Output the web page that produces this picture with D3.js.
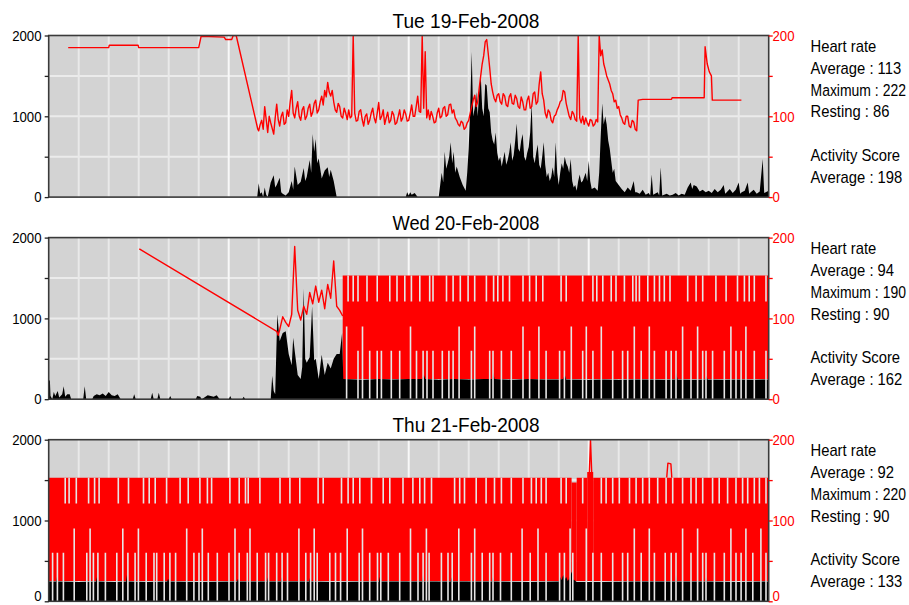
<!DOCTYPE html>
<html>
<head>
<meta charset="utf-8">
<script src="https://cdn.jsdelivr.net/npm/d3@7"></script>
<style>
  html, body { margin: 0; padding: 0; background: #ffffff; }
  svg { display: block; font-family: "Liberation Sans", Arial, sans-serif; }
</style>
</head>
<body>
<script>
// ---------------- DATA ----------------
const days = ["Tue 19-Feb-2008", "Wed 20-Feb-2008", "Thu 21-Feb-2008"];
const hrAverage = [113, 94, 92];
const hrMaximum = [222, 190, 220];
const hrResting = [86, 90, 90];
const activityAverage = [198, 162, 133];

const activityTicks = [0, 500, 1000, 1500, 2000];
const activityTickLabels = [0, 1000, 2000];
const hrTicks = [0, 50, 100, 150, 200];
const hrTickLabels = [0, 100, 200];
const hourGrid = [1,2,3,4,5,6,7,8,9,10,11,12,13,14,15,16,17,18,19,20,21,22,23];
const activityGrid = [500, 1000, 1500];

// Tue: heart rate [hour, bpm]
const tueHrStart = [[0.65,185],[2.0,185],[2.02,188],[2.98,188],[3.0,185],[5.0,185],[5.08,199],[5.85,198],[5.9,195],[6.1,195],[6.15,200],[6.25,200],[6.97,84]];
// Tue noisy heart rate, one value every 0.05 h starting at 7.0 h
const tueHrNoisyStart = 7.0;
const tueHrNoisyStep = 0.05;
const tueHrNoisy = [
  82,90,95,84,112,96,80,100,92,85,
  78,98,115,96,88,100,105,90,92,108,
  100,118,132,104,98,110,118,100,95,108,
  112,96,100,110,115,100,105,116,120,104,
  108,118,125,114,132,124,142,130,125,132,
  118,108,105,116,112,100,98,110,104,96,
  108,98,100,200,104,94,95,106,108,96,
  88,100,103,90,95,104,110,98,92,104,
  117,96,100,108,90,98,105,92,95,106,
  102,90,92,100,108,94,98,108,103,94,
  95,104,114,100,100,112,125,106,105,200,
  110,180,98,108,96,106,100,92,93,104,
  110,98,100,110,112,100,102,114,115,104,
  108,98,95,90,88,94,92,84,86,92,
  95,104,112,120,126,112,118,135,150,165,
  175,192,195,178,160,140,130,122,118,126,
  128,118,115,128,125,114,112,124,128,116,
  115,126,122,112,110,124,118,108,108,120,
  125,110,112,128,130,115,118,140,155,128,
  120,104,98,108,105,95,92,100,102,108,
  112,118,120,132,130,116,108,100,96,106,
  103,96,94,200,98,92,100,90,98,92,
  88,96,95,88,90,96,93,200,175,182,
  165,158,150,145,140,132,128,118,120,110,
  112,102,98,92,90,100,100,88,86,95,
  93,84,82,120];
const tueHrEnd = [[19.8,121],[20.76,121],[20.78,123],[21.85,123],[21.88,186],[21.95,165],[22.02,155],[22.09,150],[22.12,120],[23.09,120]];

// Tue activity [hour, score]
const tueAct = [[6.95,0],[7.0,170],[7.05,40],[7.1,60],[7.15,0],[7.2,120],[7.25,30],[7.3,0],[7.35,90],[7.4,180],[7.5,270],[7.55,120],[7.6,150],[7.7,240],[7.75,60],[7.8,40],[7.9,20],[8.0,60],[8.1,200],[8.15,90],[8.2,380],[8.3,150],[8.4,190],[8.5,360],[8.55,200],[8.6,250],[8.7,460],[8.75,300],[8.8,780],[8.85,560],[8.9,720],[8.95,420],[9.0,480],[9.1,230],[9.2,330],[9.3,370],[9.35,250],[9.4,340],[9.5,200],[9.6,0],
  [11.9,0],[11.95,60],[12.0,20],[12.05,60],[12.1,30],[12.2,50],[12.3,0],
  [13.0,0],[13.1,300],[13.15,180],[13.2,560],[13.25,350],[13.3,420],[13.35,500],[13.4,680],[13.45,420],[13.5,560],[13.55,300],[13.6,380],[13.7,250],[13.8,150],[13.9,80],[13.95,300],[14.0,600],[14.05,1100],[14.1,1800],[14.15,1000],[14.2,1100],[14.25,1300],[14.3,1000],[14.35,1300],[14.4,1520],[14.45,1100],[14.5,1000],[14.55,1400],[14.6,1380],[14.65,1100],[14.7,1050],[14.75,800],[14.8,700],[14.85,650],[14.9,800],[14.95,550],[15.0,450],[15.05,500],[15.1,380],[15.2,560],[15.25,400],[15.3,460],[15.35,550],[15.4,680],[15.45,450],[15.5,520],[15.55,700],[15.6,910],[15.65,600],[15.7,560],[15.75,700],[15.8,780],[15.85,500],[15.9,450],[15.95,550],[16.0,620],[16.05,800],[16.1,1160],[16.15,500],[16.2,420],[16.25,550],[16.3,650],[16.35,400],[16.4,350],[16.45,500],[16.5,680],[16.55,400],[16.6,250],[16.65,300],[16.7,200],[16.75,250],[16.8,370],[16.85,250],[16.9,680],[16.95,300],[17.0,150],[17.05,300],[17.1,420],[17.15,350],[17.2,500],[17.25,420],[17.3,380],[17.35,300],[17.4,470],[17.45,200],[17.5,120],[17.55,150],[17.6,80],[17.65,200],[17.7,280],[17.75,180],[17.8,200],[17.85,250],[17.9,300],[17.95,200],[18.0,450],[18.05,200],[18.1,100],[18.2,120],[18.3,80],[18.35,300],[18.4,750],[18.45,1160],[18.5,900],[18.55,1000],[18.6,900],[18.65,700],[18.7,600],[18.75,450],[18.8,300],[18.85,350],[18.9,200],[19.0,150],[19.1,100],[19.2,60],[19.3,120],[19.4,80],[19.5,200],[19.55,60],[19.6,60],[19.7,40],[19.8,90],[19.9,30],[20.0,50],[20.05,20],[20.1,280],[20.15,30],[20.3,60],[20.35,20],[20.4,370],[20.45,20],[20.6,40],[20.7,20],[20.8,30],[20.9,50],[21.0,20],[21.1,40],[21.2,30],[21.3,120],[21.4,180],[21.45,100],[21.5,150],[21.6,130],[21.7,70],[21.8,90],[21.9,60],[22.0,80],[22.1,50],[22.2,100],[22.3,60],[22.4,90],[22.5,150],[22.55,40],[22.6,60],[22.7,100],[22.8,50],[22.9,90],[23.0,180],[23.05,40],[23.1,60],[23.2,80],[23.3,180],[23.35,40],[23.4,60],[23.5,90],[23.6,40],[23.7,70],[23.8,470],[23.85,50],[23.9,60],[24.0,80]];

// Wed: heart rate [hour, bpm]
const wedHr = [[3.02,186],[7.6,84],[7.65,79],[7.7,86],[7.8,102],[7.9,95],[8.0,90],[8.1,105],[8.2,189],[8.3,110],[8.4,98],[8.5,115],[8.6,105],[8.7,132],[8.8,118],[8.9,140],[9.0,120],[9.1,135],[9.2,112],[9.3,142],[9.4,125],[9.5,171],[9.6,115],[9.7,110],[9.8,103]];
// Wed saturated heart-rate band [startHour, endHour, low bpm, high bpm]
const wedBand = [[9.8,24.0,25,153]];
const wedAct = [[0,230],[0.04,230],[0.06,40],[0.12,0],[0.17,90],[0.22,40],[0.3,100],[0.35,20],[0.45,60],[0.5,160],[0.55,30],[0.62,60],[0.7,60],[0.75,0],[1.15,0],[1.2,160],[1.25,0],[1.45,0],[1.5,40],[1.6,60],[1.7,50],[1.8,70],[1.9,40],[2.0,90],[2.1,50],[2.2,40],[2.3,60],[2.4,0],[2.8,0],[2.85,60],[2.9,0],[3.4,0],[3.45,80],[3.5,0],[3.62,0],[3.67,80],[3.72,0],[4.0,0],[4.05,40],[4.1,0],[4.9,0],[4.95,40],[5.05,30],[5.1,0],[5.3,50],[5.4,40],[5.5,30],[5.6,50],[5.7,0],[6.0,0],[6.05,40],[6.1,0],[6.45,0],[6.5,30],[6.55,0],[7.4,0],[7.45,290],[7.5,100],[7.55,60],[7.62,1050],[7.7,720],[7.8,820],[7.9,840],[8.0,560],[8.1,420],[8.15,760],[8.2,600],[8.3,300],[8.4,250],[8.45,400],[8.5,1370],[8.55,500],[8.6,450],[8.7,520],[8.78,1150],[8.85,480],[8.9,500],[9.0,250],[9.1,550],[9.2,300],[9.3,450],[9.4,380],[9.5,500],[9.6,560],[9.7,560],[9.78,820],[9.82,250],[10.5,240],[11.0,250],[11.5,245],[12.0,250],[12.45,250],[12.5,310],[12.55,250],[13.0,240],[13.5,250],[14.0,245],[14.5,250],[14.78,250],[14.82,330],[14.86,250],[15.5,240],[16.0,250],[16.5,245],[17.0,245],[17.15,250],[17.2,310],[17.25,245],[18.0,240],[18.5,245],[19.0,240],[19.5,245],[20.0,245],[20.5,240],[20.88,245],[20.92,330],[20.96,245],[21.5,240],[21.88,245],[21.92,290],[21.96,245],[22.5,240],[23.0,245],[23.5,240],[24.0,245]];
const wedShortGaps = [9.98,10.15,10.31,10.61,10.95,11.37,11.61,11.87,12.09,12.37,12.70,12.81,13.26,13.48,13.72,13.98,14.20,14.59,14.83,14.97,15.14,15.36,15.81,16.03,16.25,16.47,17.08,17.25,17.80,18.14,18.27,18.47,18.75,18.91,19.19,19.47,19.58,19.69,19.97,20.19,20.36,20.52,20.71,21.30,21.58,21.80,22.24,22.58,22.96,23.19,23.35,23.52,23.91];
const wedTallGaps = [9.93,10.46,12.06,13.68,14.20,15.81,16.34,17.42,17.92,18.42,19.52,20.02,21.13,21.63,22.74,23.24];
const wedMidGaps = [10.31,10.70,10.95,11.09,11.42,11.70,12.26,12.48,12.61,12.81,13.12,13.34,13.48,14.09,14.70,14.81,15.09,15.42,16.03,16.58,17.03,17.19,17.80,18.14,18.80,19.13,19.30,19.75,20.19,20.58,20.75,20.91,21.41,21.80,21.91,22.13,22.52,22.91,23.08,23.52,23.91];

// Thu
const thuBand = [[0,17.43,25,153],[17.43,17.6,25,147],[17.6,17.95,25,153],[17.95,18.15,25,160],[18.15,24,25,153]];
const thuHrPeaks = [[[18.02,158],[18.06,200],[18.1,160]], [[20.6,153],[20.64,171],[20.74,170],[20.77,153]]];
const thuAct = [[0,245],[0.25,245],[0.28,310],[0.31,245],[1.0,240],[1.58,245],[1.61,300],[1.64,245],[2.2,240],[2.58,245],[2.61,330],[2.64,245],[3.3,240],[3.95,245],[3.98,280],[4.01,245],[5.0,240],[6.28,245],[6.31,280],[6.34,245],[7.28,245],[7.31,300],[7.34,245],[7.74,245],[7.77,300],[7.8,245],[8.68,245],[8.71,290],[8.74,245],[9.5,240],[11.01,245],[11.04,300],[11.07,245],[12.45,245],[12.48,330],[12.51,245],[13.4,245],[13.43,300],[13.46,245],[14.77,245],[14.8,300],[14.83,245],[16.0,240],[17.0,245],[17.05,300],[17.1,260],[17.15,330],[17.2,270],[17.25,300],[17.3,250],[17.35,280],[17.43,370],[17.47,260],[17.5,270],[17.6,240],[18.5,240],[19.5,245],[20.88,245],[20.91,330],[20.94,245],[21.88,245],[21.91,300],[21.94,245],[23.0,240],[24.0,245]];
const thuShortGaps = [0.55,0.68,0.92,1.33,1.53,1.68,2.32,2.66,3.16,3.35,3.55,3.93,4.38,4.65,5.04,5.29,5.43,6.04,6.35,6.56,6.65,7.04,7.71,8.04,8.37,8.98,9.15,9.76,9.98,10.15,10.37,10.76,11.15,11.37,11.81,12.14,12.37,12.53,12.76,13.53,13.70,13.86,14.25,14.58,14.86,15.09,15.42,15.81,16.09,16.25,16.42,16.58,17.08,17.25,17.80,18.42,18.58,18.80,19.02,19.36,19.58,19.80,20.02,20.30,20.58,20.80,21.13,21.41,21.58,21.80,22.13,22.35,22.63,22.91,23.13,23.30,23.52,23.69,23.91];
const thuTallGaps = [0.85,1.38,2.47,2.99,4.60,5.12,6.21,6.71,8.34,8.85,9.95,10.46,12.06,12.59,13.67,14.20,15.78,16.31,17.38,17.92,19.52,20.02,21.13,21.63,22.74,23.24,23.74];
const thuMidGaps = [0.13,0.29,0.49,1.27,1.49,1.64,1.89,2.27,2.64,2.88,3.25,3.51,3.60,3.85,4.04,4.23,4.84,5.01,5.32,5.62,6.01,6.35,6.62,6.95,7.23,7.33,7.60,7.78,7.96,8.57,8.73,8.95,9.37,9.56,9.73,10.35,10.70,10.96,11.07,11.32,11.70,12.31,12.48,12.68,13.09,13.31,13.45,14.09,14.45,14.70,14.81,15.06,15.42,16.05,16.58,17.03,17.19,17.47,18.14,18.42,18.80,19.13,19.30,19.75,20.19,20.55,20.75,20.91,21.41,21.80,21.91,22.19,22.52,22.91,23.08,23.47,23.91];

// heart-rate extent (bpm) of each kind of white gap stroke
const shortGapRange = [153, 121];
const tallGapRange = [90, 0];
const midGapRange = [60, 0];

// ---------------- BUILD ----------------
const tueHr = tueHrStart
  .concat(tueHrNoisy.map((v, i) => [tueHrNoisyStart + i * tueHrNoisyStep, v]))
  .concat(tueHrEnd);

const panels = [
  { hrLines: [tueHr], band: [], act: tueAct, gaps: [] },
  { hrLines: [wedHr], band: wedBand, act: wedAct,
    gaps: [[wedShortGaps, shortGapRange], [wedTallGaps, tallGapRange], [wedMidGaps, midGapRange]] },
  { hrLines: thuHrPeaks, band: thuBand, act: thuAct,
    gaps: [[thuShortGaps, shortGapRange], [thuTallGaps, tallGapRange], [thuMidGaps, midGapRange]] }
];

const W = 909, H = 605;
const plotLeft = 48.7, plotRight = 768.7;
const panelTop0 = 35.5, panelStep = 202.1, panelH = 161.6;
const RED = "#ff0000";
const sideX = 810.5;
const labelMaxBaseline = H - 4.5;

const svg = d3.select("body").append("svg").attr("width", W).attr("height", H);

const x = d3.scaleLinear().domain([0, 24]).range([plotLeft, plotRight]);

panels.forEach((p, i) => {
  const top = panelTop0 + i * panelStep;
  const bottom = top + panelH;
  const yAct = d3.scaleLinear().domain([0, 2000]).range([bottom, top]);
  const yHr = d3.scaleLinear().domain([0, 200]).range([bottom, top]);
  const g = svg.append("g");

  g.append("clipPath").attr("id", "clip" + i)
    .append("rect").attr("x", plotLeft).attr("y", top)
    .attr("width", plotRight - plotLeft).attr("height", panelH);

  g.append("rect").attr("x", plotLeft).attr("y", top)
    .attr("width", plotRight - plotLeft).attr("height", panelH)
    .attr("fill", "#d3d3d3");

  const plot = g.append("g").attr("clip-path", `url(#clip${i})`);

  // grid
  plot.selectAll(".hg").data(activityGrid).join("line")
    .attr("x1", plotLeft).attr("x2", plotRight)
    .attr("y1", d => yAct(d)).attr("y2", d => yAct(d))
    .attr("stroke", "#ebebeb").attr("stroke-width", 2);
  plot.selectAll(".vg").data(hourGrid).join("line")
    .attr("x1", d => x(d)).attr("x2", d => x(d))
    .attr("y1", top).attr("y2", bottom)
    .attr("stroke", d => (d % 6 === 0 ? "#f8f8f8" : "#e9e9e9")).attr("stroke-width", 2);

  // saturated heart-rate band
  const bandArea = d3.area().x(d => x(d[0])).y0(d => yHr(d[1])).y1(d => yHr(d[2]));
  plot.selectAll(".band").data(p.band).join("path")
    .attr("d", b => bandArea([[b[0], b[2], b[3]], [b[1], b[2], b[3]]]))
    .attr("fill", RED);

  // activity
  const actArea = d3.area().x(d => x(d[0])).y0(bottom).y1(d => yAct(d[1]));
  plot.append("path").datum(p.act).attr("d", actArea).attr("fill", "#000");

  // heart rate lines
  const hrLine = d3.line().x(d => x(d[0])).y(d => yHr(d[1]));
  plot.selectAll(".hr").data(p.hrLines).join("path")
    .attr("d", hrLine).attr("fill", "none").attr("stroke", RED)
    .attr("stroke-width", 1.4).attr("stroke-linejoin", "round");

  // white gap strokes
  p.gaps.forEach(([hours, range]) => {
    plot.selectAll(null).data(hours).join("line")
      .attr("x1", d => x(d)).attr("x2", d => x(d))
      .attr("y1", yHr(range[0])).attr("y2", yHr(range[1]))
      .attr("stroke", "#e6e6e6").attr("stroke-width", 1.6);
  });

  // border
  g.append("rect").attr("x", plotLeft).attr("y", top)
    .attr("width", plotRight - plotLeft).attr("height", panelH)
    .attr("fill", "none").attr("stroke", "#3a3a3a").attr("stroke-width", 1.6);

  // left axis ticks
  const axL = g.append("g").attr("transform", `translate(${plotLeft},0)`)
    .call(d3.axisLeft(yAct).tickValues(activityTicks).tickSize(4).tickFormat(""));
  axL.select(".domain").remove();
  axL.selectAll("line").attr("stroke", "#222").attr("stroke-width", 1.3);

  // right axis ticks
  const axR = g.append("g").attr("transform", `translate(${plotRight},0)`)
    .call(d3.axisRight(yHr).tickValues(hrTicks).tickSize(4).tickFormat(""));
  axR.select(".domain").remove();
  axR.selectAll("line").attr("stroke", RED).attr("stroke-width", 1.3);

  // tick labels (horizontally condensed like the original)
  g.selectAll(".ll").data(activityTickLabels).join("text")
    .attr("transform", d => `translate(41.5,${Math.min(yAct(d) + 5.2, labelMaxBaseline)}) scale(0.88,1)`)
    .attr("text-anchor", "end").attr("font-size", 15).attr("fill", "#000")
    .text(d => d);
  g.selectAll(".rl").data(hrTickLabels).join("text")
    .attr("transform", d => `translate(772.5,${Math.min(yHr(d) + 5.2, labelMaxBaseline)}) scale(0.88,1)`)
    .attr("text-anchor", "start").attr("font-size", 15).attr("fill", RED)
    .text(d => d);

  // title
  g.append("text").attr("x", 466).attr("y", top - 7.5)
    .attr("text-anchor", "middle").attr("font-size", 20)
    .attr("textLength", 147).attr("lengthAdjust", "spacingAndGlyphs")
    .attr("fill", "#000").text(days[i]);

  // side statistics (condensed with a transform so they fit the right margin)
  const lines = [
    "Heart rate",
    "Average : " + hrAverage[i],
    "Maximum : " + hrMaximum[i],
    "Resting : " + hrResting[i],
    "",
    "Activity Score",
    "Average : " + activityAverage[i]
  ];
  g.selectAll(".st").data(lines).join("text")
    .attr("font-size", 17).attr("fill", "#000").text(d => d)
    .each(function (d, k) {
      const natural = this.getComputedTextLength();
      const sx = natural > 0 ? Math.min(0.87, (W - sideX - 3) / natural) : 0.87;
      d3.select(this).attr("transform",
        `translate(${sideX},${top + 16.5 + k * 21.8}) scale(${sx},1)`);
    });
});
</script>
</body>
</html>
